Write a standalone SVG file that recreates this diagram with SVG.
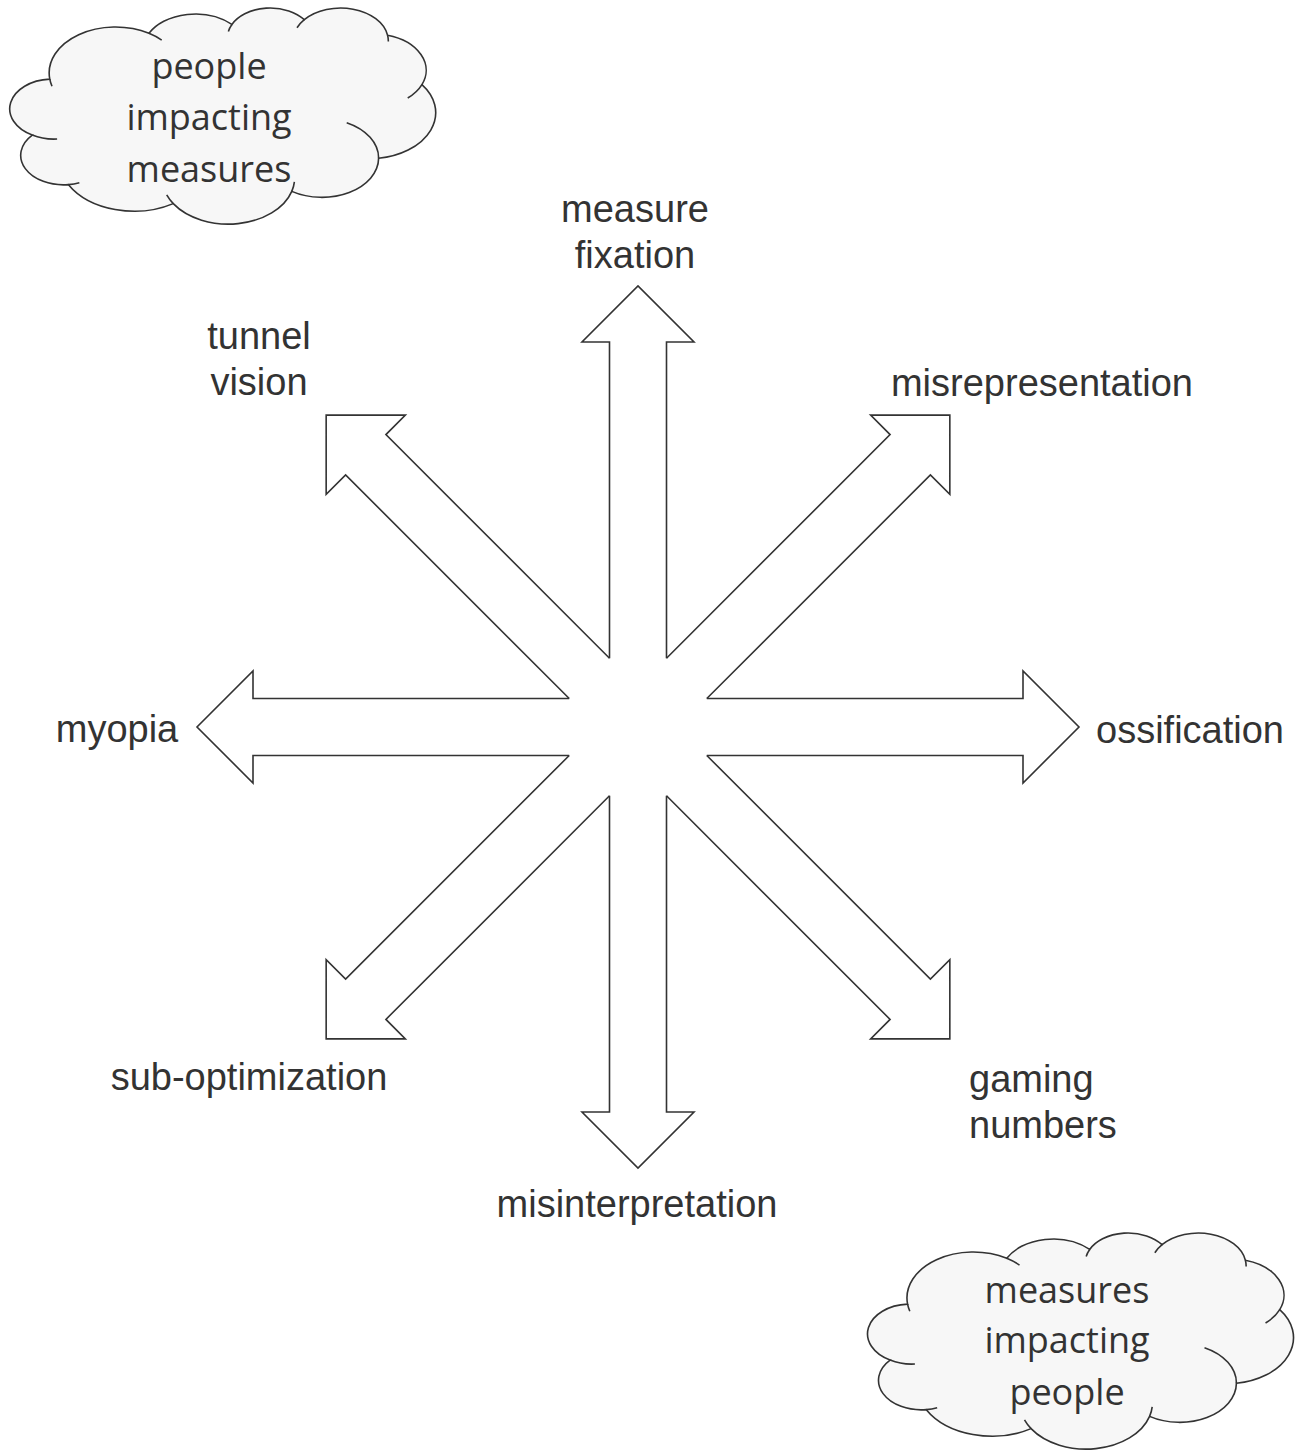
<svg xmlns="http://www.w3.org/2000/svg" xmlns:xlink="http://www.w3.org/1999/xlink" width="1296" height="1456" viewBox="0 0 1296 1456">
  <style>
    .arrow { fill: none; stroke: #333; stroke-width: 1.6; stroke-linejoin: miter; }
    .lbl { font-family: "Liberation Sans", Arial, sans-serif; font-size: 38px; fill: #333; }
    .mid { text-anchor: middle; }
    .cloud-body { fill: #f7f7f7; stroke: #333; stroke-width: 1.6; }
    .cloud-inner { fill: none; stroke: #333; stroke-width: 1.6; }
    .ctext { font-family: "Open Sans", "Noto Sans", sans-serif; font-size: 36px; fill: #333; text-anchor: middle; }
  </style>
  <defs>
    <polyline id="arrow" class="arrow" points="-28.5,-68.8 -28.5,-385 -56,-385 0,-441 56,-385 28.5,-385 28.5,-68.8"/>
    <g id="cloud">
      <path class="cloud-body" d="M38.28,71.85 A66.28,45.95 0 0 1 137.46,26.01 A52.34,36.34 0 0 1 220.40,17.16 A42.84,29.73 0 0 1 292.81,12.40 A47.67,32.98 0 0 1 376.09,27.88 A52.34,36.37 0 0 1 410.44,77.29 A66.49,46.10 0 0 1 367.12,151.01 A56.78,39.34 0 0 1 280.28,184.06 A66.27,46.08 0 0 1 161.77,196.33 A75.77,52.72 0 0 1 56.98,177.35 A42.79,29.59 0 0 1 20.75,127.74 A42.65,29.73 0 0 1 38.28,71.85 Z"/>
      <path class="cloud-inner" d="M45.61,131.73 A42.65,29.73 0 0 1 20.75,127.74 M67.86,175.44 A42.79,29.59 0 0 1 56.98,177.35 M161.77,196.33 A66.27,46.08 0 0 1 155.20,187.62 M282.89,174.52 A66.27,46.08 0 0 1 280.28,184.06 M335.21,115.34 A56.78,39.34 0 0 1 367.12,151.01 M410.44,77.29 A52.34,36.37 0 0 1 396.23,90.67 M376.09,27.88 A47.67,32.98 0 0 1 376.83,34.19 M285.52,20.47 A47.67,32.98 0 0 1 292.81,12.40 M216.88,24.11 A42.84,29.73 0 0 1 220.40,17.16 M137.46,26.01 A66.28,45.95 0 0 1 150.21,32.75 M40.50,78.94 A66.28,45.95 0 0 1 38.28,71.85"/>
    </g>
  </defs>
  <rect width="1296" height="1456" fill="#ffffff"/>

  <g id="connectors">
    <use href="#arrow" xlink:href="#arrow" transform="translate(638 727) rotate(0)"/>
    <use href="#arrow" xlink:href="#arrow" transform="translate(638 727) rotate(45)"/>
    <use href="#arrow" xlink:href="#arrow" transform="translate(638 727) rotate(90)"/>
    <use href="#arrow" xlink:href="#arrow" transform="translate(638 727) rotate(135)"/>
    <use href="#arrow" xlink:href="#arrow" transform="translate(638 727) rotate(180)"/>
    <use href="#arrow" xlink:href="#arrow" transform="translate(638 727) rotate(225)"/>
    <use href="#arrow" xlink:href="#arrow" transform="translate(638 727) rotate(270)"/>
    <use href="#arrow" xlink:href="#arrow" transform="translate(638 727) rotate(315)"/>
  </g>

  <g id="cloud-people-impacting-measures">
    <use href="#cloud" xlink:href="#cloud" transform="translate(11.5 7.3)"/>
    <text class="ctext" x="209" y="79">people</text>
    <text class="ctext" x="209" y="130">impacting</text>
    <text class="ctext" x="209" y="182">measures</text>
  </g>

  <g id="cloud-measures-impacting-people">
    <use href="#cloud" xlink:href="#cloud" transform="translate(869.3 1232.3)"/>
    <text class="ctext" x="1067" y="1303">measures</text>
    <text class="ctext" x="1067" y="1353">impacting</text>
    <text class="ctext" x="1067" y="1405">people</text>
  </g>

  <g id="label-measure-fixation">
    <text class="lbl mid" x="635" y="222">measure</text>
    <text class="lbl mid" x="635" y="268">fixation</text>
  </g>
  <g id="label-tunnel-vision">
    <text class="lbl mid" x="259" y="349">tunnel</text>
    <text class="lbl mid" x="259" y="395">vision</text>
  </g>
  <g id="label-misrepresentation">
    <text class="lbl mid" x="1042" y="396">misrepresentation</text>
  </g>
  <g id="label-myopia">
    <text class="lbl mid" x="117" y="742">myopia</text>
  </g>
  <g id="label-ossification">
    <text class="lbl mid" x="1190" y="743">ossification</text>
  </g>
  <g id="label-sub-optimization">
    <text class="lbl mid" x="249" y="1090">sub-optimization</text>
  </g>
  <g id="label-gaming-numbers">
    <text class="lbl" x="969" y="1092">gaming</text>
    <text class="lbl" x="969" y="1138">numbers</text>
  </g>
  <g id="label-misinterpretation">
    <text class="lbl mid" x="637" y="1217">misinterpretation</text>
  </g>
</svg>
